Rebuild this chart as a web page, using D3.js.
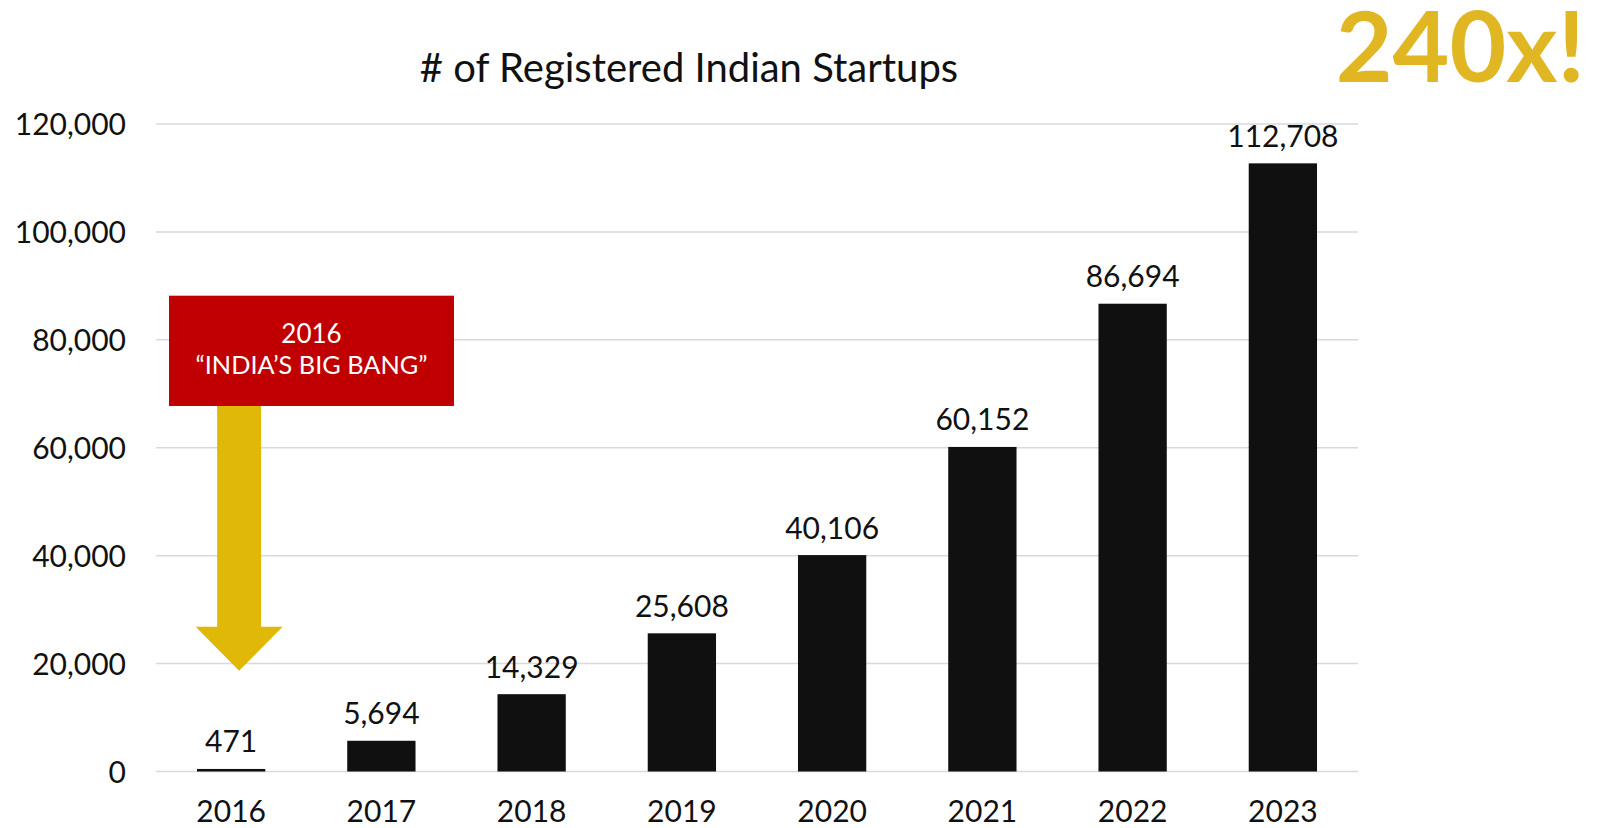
<!DOCTYPE html>
<html>
<head>
<meta charset="utf-8">
<script src="https://cdn.jsdelivr.net/npm/d3@7"></script>
<style>
  html, body { margin: 0; padding: 0; background: #ffffff; }
  svg { display: block; font-family: Lato, "Noto Sans", sans-serif; }
</style>
</head>
<body>
<svg id="chart" width="1599" height="828"></svg>
<script>
// Registered startups in India per year
const years = ["2016", "2017", "2018", "2019", "2020", "2021", "2022", "2023"];
const startups = [471, 5694, 14329, 25608, 40106, 60152, 86694, 112708];
const yTicks = [0, 20000, 40000, 60000, 80000, 100000, 120000];

const title = "# of Registered Indian Startups";
const growthLabel = "240x!";
const calloutYear = "2016";
const calloutLines = ["2016", "\u201CINDIA\u2019S BIG BANG\u201D"];

const svg = d3.select("#chart");
const W = 1599, H = 828;
const margin = { top: 124, right: 241, bottom: 56.5, left: 156 };
const plotW = W - margin.left - margin.right;
const plotH = H - margin.top - margin.bottom;

// Excel-style gap width of 120%
const x = d3.scaleBand()
  .domain(years)
  .range([margin.left, margin.left + plotW])
  .paddingInner(1 - 1 / 2.2)
  .paddingOuter((1 - 1 / 2.2) / 2);

const y = d3.scaleLinear()
  .domain([0, 120000])
  .range([margin.top + plotH, margin.top]);

const fmt = d3.format(",");

// Horizontal gridlines
svg.append("g")
  .selectAll("line")
  .data(yTicks)
  .join("line")
  .attr("x1", margin.left)
  .attr("x2", margin.left + plotW)
  .attr("y1", d => y(d))
  .attr("y2", d => y(d))
  .attr("stroke", "#d9d9d9")
  .attr("stroke-width", 1.5);

// Y axis labels
const yAxis = d3.axisLeft(y).tickValues(yTicks).tickFormat(fmt).tickSize(0).tickPadding(0);
const gy = svg.append("g")
  .attr("transform", `translate(${margin.left - 30},0)`)
  .call(yAxis);
gy.select(".domain").remove();
gy.selectAll("text")
  .attr("font-family", "Lato, sans-serif")
  .attr("font-size", 30)
  .attr("fill", "#111")
  .attr("dy", "0.36em");

// X axis labels
const xAxis = d3.axisBottom(x).tickSize(0).tickPadding(0);
const gx = svg.append("g")
  .attr("transform", `translate(0,${y(0)})`)
  .call(xAxis);
gx.select(".domain").remove();
gx.selectAll("text")
  .attr("font-family", "Lato, sans-serif")
  .attr("font-size", 30)
  .attr("fill", "#111")
  .attr("dy", null)
  .attr("y", 50);

// Bars
svg.append("g")
  .selectAll("rect")
  .data(years)
  .join("rect")
  .attr("x", d => x(d))
  .attr("width", x.bandwidth())
  .attr("y", (d, i) => y(startups[i]))
  .attr("height", (d, i) => y(0) - y(startups[i]))
  .attr("fill", "#101010");

// Value labels
svg.append("g")
  .selectAll("text")
  .data(years)
  .join("text")
  .attr("x", d => x(d) + x.bandwidth() / 2)
  .attr("y", (d, i) => y(startups[i]) - 16.5)
  .attr("text-anchor", "middle")
  .attr("font-size", 30)
  .attr("fill", "#111")
  .text((d, i) => fmt(startups[i]));

// Title
svg.append("text")
  .attr("x", 689)
  .attr("y", 82)
  .attr("text-anchor", "middle")
  .attr("font-size", 40)
  .attr("fill", "#111")
  .text(title);

// Growth headline
svg.append("text")
  .attr("x", 1585)
  .attr("y", 81.7)
  .attr("text-anchor", "end")
  .attr("font-size", 98)
  .attr("font-weight", 700)
  .attr("fill", "#e1b623")
  .text(growthLabel);

// Callout box with arrow pointing to the 2016 bar
const cx = x(calloutYear) + x.bandwidth() / 2 + 8;
const box = { x0: 169, x1: 454, y0: 295.7, y1: 406 };
svg.append("rect")
  .attr("x", box.x0)
  .attr("y", box.y0)
  .attr("width", box.x1 - box.x0)
  .attr("height", box.y1 - box.y0)
  .attr("fill", "#c00000");

const boxText = svg.append("text")
  .attr("text-anchor", "middle")
  .attr("fill", "#ffffff");
calloutLines.forEach((t, i) => {
  boxText.append("tspan")
    .attr("x", (box.x0 + box.x1) / 2)
    .attr("y", 343.3 + i * 31)
    .attr("font-size", i === 0 ? 26 : 25.3)
    .text(t);
});

const shaftHalf = 22;
const headHalf = 43.5;
const headTop = 626.7;
const tipY = 670.7;
const arrow = d3.path();
arrow.moveTo(cx - shaftHalf, box.y1);
arrow.lineTo(cx + shaftHalf, box.y1);
arrow.lineTo(cx + shaftHalf, headTop);
arrow.lineTo(cx + headHalf, headTop);
arrow.lineTo(cx, tipY);
arrow.lineTo(cx - headHalf, headTop);
arrow.lineTo(cx - shaftHalf, headTop);
arrow.closePath();
svg.append("path")
  .attr("d", arrow.toString())
  .attr("fill", "#e0b807");
</script>
</body>
</html>
